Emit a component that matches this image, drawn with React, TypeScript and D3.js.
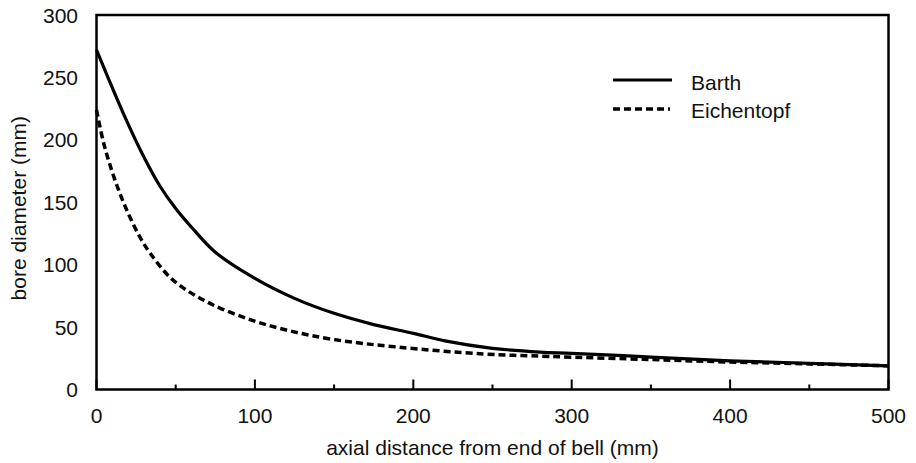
import React from "react";
import * as d3 from "d3";

const seriesNames = ["Barth", "Eichentopf"];
const barthX = [0, 17, 30, 40, 50, 60, 75, 100, 125, 150, 175, 200, 220, 250, 280, 300, 350, 400, 450, 500];
const barthY = [272, 221, 186, 163, 145, 130, 110, 89, 73, 61, 52, 45, 39, 33, 30, 29, 26, 23, 21, 19];
const eichX = [0, 4, 8, 13, 19, 27, 34, 48, 70, 97, 122, 150, 190, 244, 286, 350, 400, 450, 500];
const eichY = [224, 200, 182, 163, 144, 123, 109, 88, 70, 56, 47, 40, 34, 28.5, 26.5, 24, 22, 20.5, 19];
const xTicks = [0, 100, 200, 300, 400, 500];
const xMinorTicks = [50, 150, 250, 350, 450];
const yTicks = [0, 50, 100, 150, 200, 250, 300];

const W = 916, H = 463;
const m = { left: 96.5, right: 888.5, top: 15, bottom: 389.5 };
const FONT = "'Liberation Sans', Arial, sans-serif";
const FS = 21;

export default function App() {
  const x = d3.scaleLinear().domain([0, 500]).range([m.left, m.right]);
  const y = d3.scaleLinear().domain([0, 300]).range([m.bottom, m.top]);
  const line = d3.line<[number, number]>().x(d => x(d[0])).y(d => y(d[1])).curve(d3.curveCatmullRom.alpha(0.5));
  const barth = barthX.map((v, i) => [v, barthY[i]] as [number, number]);
  const eich = eichX.map((v, i) => [v, eichY[i]] as [number, number]);

  return (
    <svg width={W} height={H} style={{ position: "absolute", left: 0, top: 0, background: "#fff" }} fontFamily={FONT}>
      <rect x={0} y={0} width={W} height={H} fill="#fff" />
      <path d={line(eich) || ""} fill="none" stroke="#000" strokeWidth={3.5} strokeDasharray="7,4" />
      <path d={line(barth) || ""} fill="none" stroke="#000" strokeWidth={3.2} />
      <rect x={m.left} y={m.top} width={m.right - m.left} height={m.bottom - m.top} fill="none" stroke="#000" strokeWidth={2.5} />
      {xTicks.map(t => (
        <g key={"x" + t}>
          <line x1={x(t)} x2={x(t)} y1={m.bottom} y2={m.bottom - 10} stroke="#000" strokeWidth={2} />
          <text x={x(t)} y={423} textAnchor="middle" fontSize={FS} fill="#111">{t}</text>
        </g>
      ))}
      {xMinorTicks.map(t => (
        <line key={"xm" + t} x1={x(t)} x2={x(t)} y1={m.bottom} y2={m.bottom - 5} stroke="#000" strokeWidth={2} />
      ))}
      {yTicks.map(t => (
        <text key={"y" + t} x={78} y={y(t) + 7.5} textAnchor="end" fontSize={FS} fill="#111">{t}</text>
      ))}
      <text x={(m.left + m.right) / 2} y={455} textAnchor="middle" fontSize={FS} fill="#111">axial distance from end of bell (mm)</text>
      <text transform={`translate(25.5,${(m.top + m.bottom) / 2 + 6}) rotate(-90)`} textAnchor="middle" fontSize={FS} fill="#111">bore diameter (mm)</text>
      <line x1={613} x2={672} y1={80} y2={80} stroke="#000" strokeWidth={3.2} />
      <text x={691} y={89.5} fontSize={FS} fill="#111">{seriesNames[0]}</text>
      <line x1={613} x2={670} y1={109} y2={109} stroke="#000" strokeWidth={3.5} strokeDasharray="7,4" />
      <text x={691} y={117.5} fontSize={FS} fill="#111">{seriesNames[1]}</text>
    </svg>
  );
}
